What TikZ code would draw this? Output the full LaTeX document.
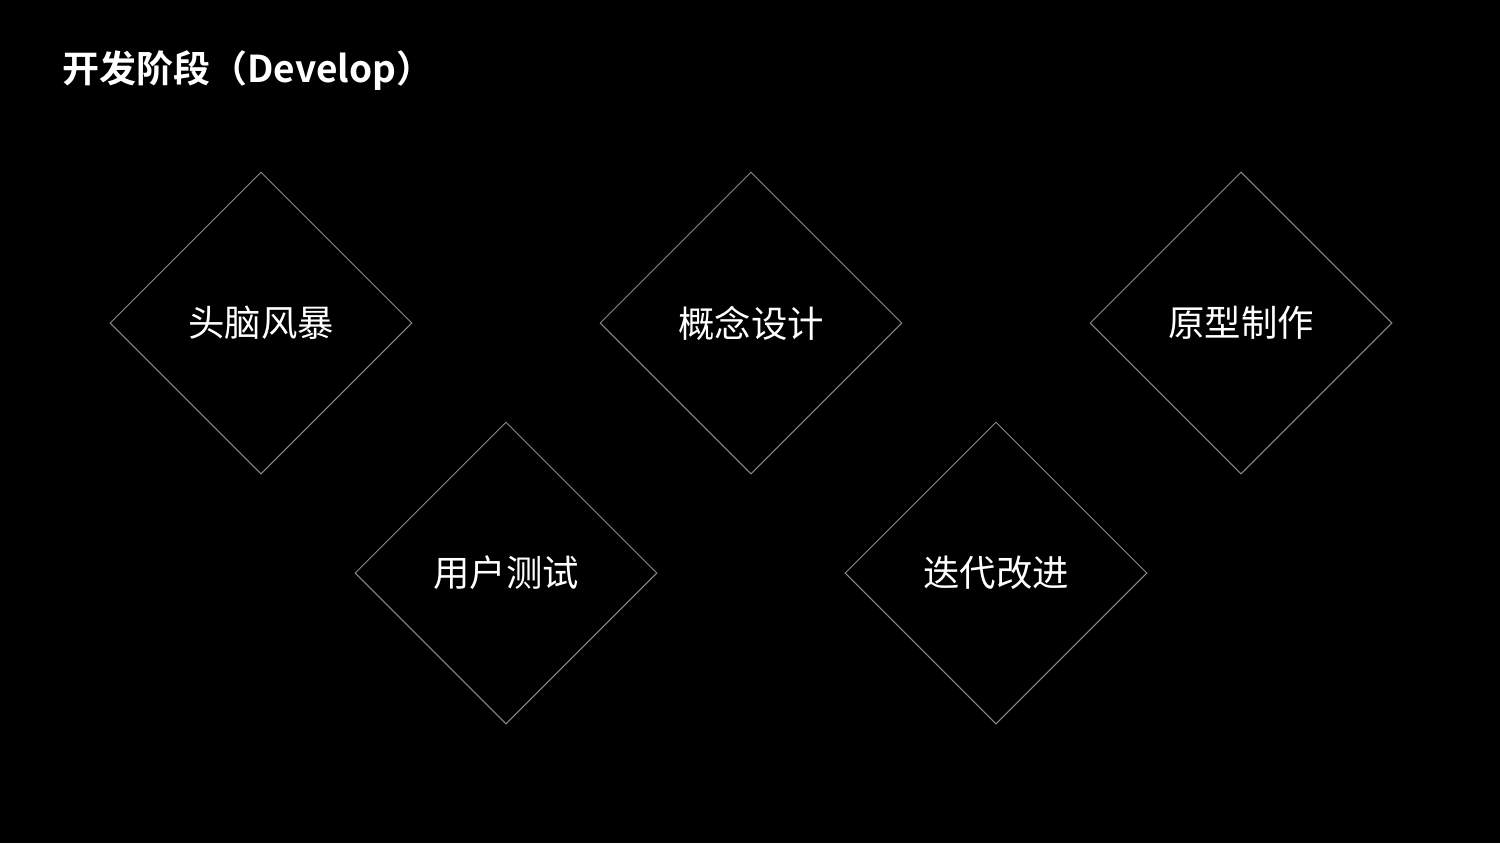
\documentclass[tikz,border=0pt]{standalone}
\usepackage{fontspec}
\setmainfont{Noto Sans CJK SC}
\newfontfamily\cjkbold{Noto Sans CJK SC Bold}
\usetikzlibrary{shapes.geometric}
\definecolor{edgegrey}{HTML}{8A8A8A}
\tikzset{
  diam/.style={diamond, draw=edgegrey, line width=0.5pt, minimum width=151pt, minimum height=151pt, inner sep=0pt, text=white, font=\fontsize{18.2pt}{20pt}\selectfont, aspect=1},
  titletext/.style={anchor=west, text=white, inner sep=0pt, font=\cjkbold\fontsize{18.5pt}{21pt}\selectfont}
}
\begin{document}
\begin{tikzpicture}[x=0.5pt,y=-0.5pt]
\fill[black] (0,0) rectangle (1500,843);
\useasboundingbox (0,0) rectangle (1500,843);
\node[titletext] (title) at (62,71) {开发阶段（Develop）};
\node[diam] (d1) at (261,323) {头脑风暴};
\node[diam] (d2) at (751,323) {概念设计};
\node[diam] (d3) at (1241,323) {原型制作};
\node[diam] (d4) at (506,573) {用户测试};
\node[diam] (d5) at (996,573) {迭代改进};
\end{tikzpicture}
\end{document}
